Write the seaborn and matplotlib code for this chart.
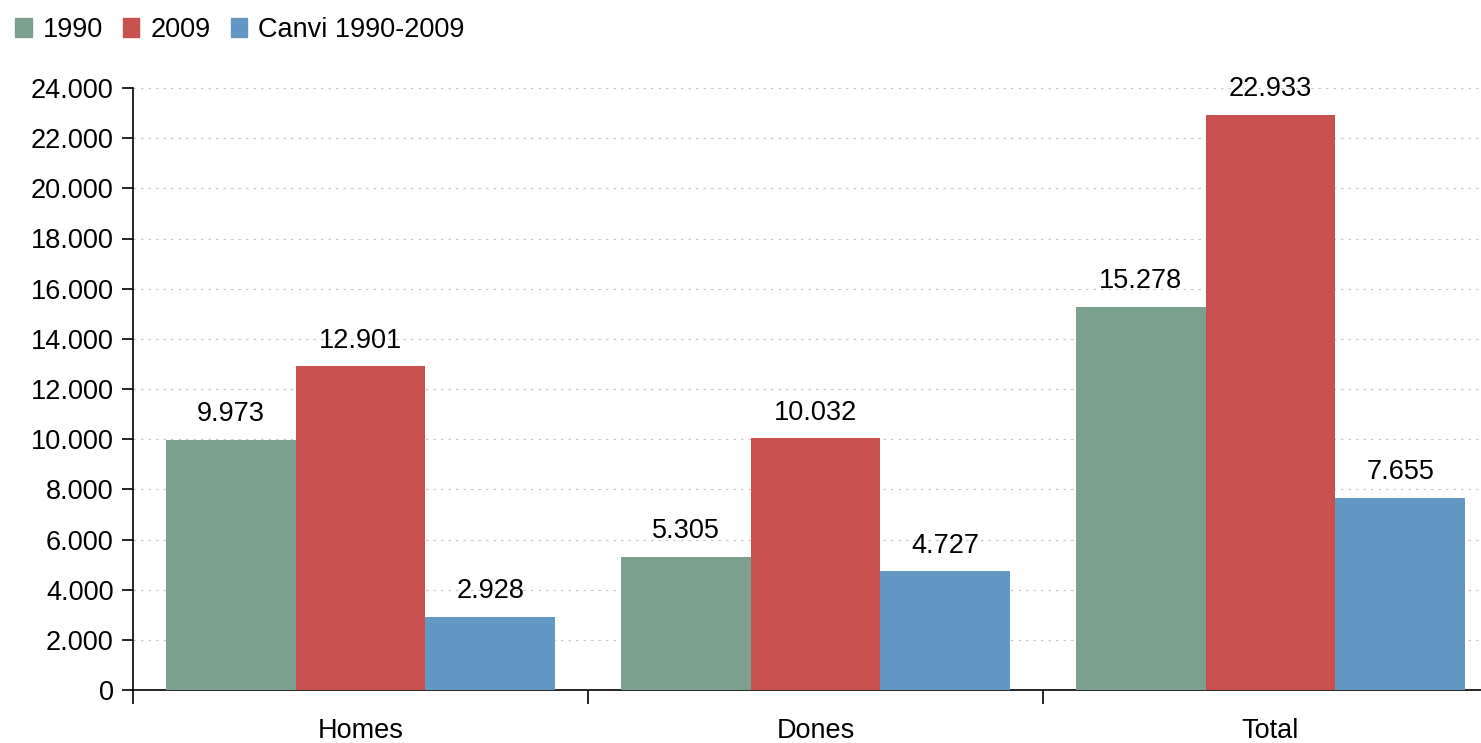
import pandas as pd
import matplotlib.pyplot as plt
import seaborn as sns
from matplotlib.ticker import FuncFormatter, FixedLocator

# Dades
categories = ["Homes", "Dones", "Total"]
series = ["1990", "2009", "Canvi 1990-2009"]
v1990 = [9973, 5305, 15278]
v2009 = [12901, 10032, 22933]
canvi = [2928, 4727, 7655]
colors = ["#7BA08E", "#C8504F", "#6498C4"]

df = pd.DataFrame({
    "cat": categories * 3,
    "serie": [series[0]] * 3 + [series[1]] * 3 + [series[2]] * 3,
    "valor": v1990 + v2009 + canvi,
})

sns.set_style("white")
plt.rcParams["font.family"] = ["Liberation Sans", "DejaVu Sans"]
plt.rcParams["font.size"] = 19.5
plt.rcParams["text.color"] = "black"
plt.rcParams["xtick.color"] = "black"
plt.rcParams["ytick.color"] = "black"
plt.rcParams["xtick.labelcolor"] = "black"
plt.rcParams["ytick.labelcolor"] = "black"

fig = plt.figure(figsize=(14.81, 7.43), dpi=100)
ax = fig.add_axes([133 / 1481, 1 - 690 / 743, 1365 / 1481, 602 / 743])

sns.barplot(data=df, x="cat", y="valor", hue="serie", palette=colors,
            width=0.855, gap=0, saturation=1, ax=ax, legend=False, zorder=3,
            linewidth=0, edgecolor="none")

fmt = lambda v, p: f"{int(v):,}".replace(",", ".")
for cont in ax.containers:
    ax.bar_label(cont, labels=[fmt(b.get_height(), None) for b in cont],
                 padding=9, fontsize=19.5, color="black")

ax.set_ylim(0, 24000)
ax.set_xlim(-0.5, 2.5)
ax.set_yticks(range(0, 24001, 2000))
ax.yaxis.set_major_formatter(FuncFormatter(fmt))
ax.set_xlabel("")
ax.set_ylabel("")
ax.grid(axis="y", color="#c8c8c8", linestyle=(0, (2, 4)), linewidth=0.9, zorder=0)

for s in ["top", "right"]:
    ax.spines[s].set_visible(False)
for s in ["left", "bottom"]:
    ax.spines[s].set_color("black")
    ax.spines[s].set_linewidth(1.2)

ax.tick_params(axis="y", which="major", direction="out", length=8, width=1.2,
               color="black", left=True, pad=6, labelsize=19.5)
ax.tick_params(axis="x", which="major", length=0, pad=20, labelsize=19.5)
ax.xaxis.set_minor_locator(FixedLocator([-0.5, 0.5, 1.5, 2.5]))
ax.tick_params(axis="x", which="minor", direction="out", length=10, width=1.2,
               color="black", bottom=True)

handles = [plt.Rectangle((0, 0), 1, 1, color=c) for c in colors]
fig.legend(handles, series, loc="upper left", bbox_to_anchor=(-0.006, 1.01),
           ncol=3, frameon=False, handlelength=0.6, handleheight=0.7,
           handletextpad=0.4, columnspacing=0.75, fontsize=19.5)

fig.savefig("out.png", dpi=100)
